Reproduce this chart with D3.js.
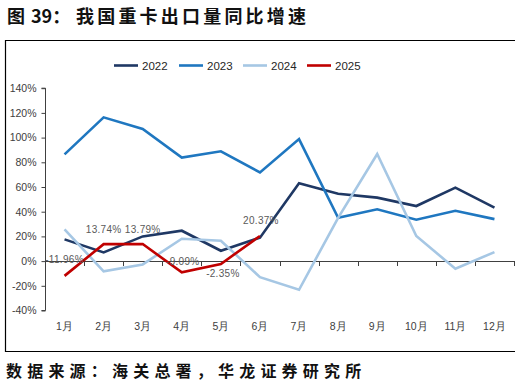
<!DOCTYPE html>
<html>
<head>
<meta charset="utf-8">
<script src="https://cdn.jsdelivr.net/npm/d3@7"></script>
<style>
  html, body { margin: 0; padding: 0; background: #fff; }
  svg { display: block; }
</style>
</head>
<body>
<svg id="chart" width="521" height="392"></svg>
<script>
const months = ["1月","2月","3月","4月","5月","6月","7月","8月","9月","10月","11月","12月"];
const seriesNames = ["2022","2023","2024","2025"];
const v2022 = [17.6, 7.0, 20.0, 24.6, 8.4, 19.0, 63.0, 54.6, 51.4, 44.6, 59.5, 43.3];
const v2023 = [86.4, 116.4, 107.0, 83.8, 88.9, 71.8, 98.8, 35.1, 41.9, 33.5, 40.8, 34.0];
const v2024 = [25.7, -8.3, -2.7, 18.1, 16.5, -13.0, -23.2, 35.0, 86.7, 20.3, -6.2, 7.3];
const v2025 = [-11.96, 13.74, 13.79, -9.09, -2.35, 20.37];
const labels2025 = ["-11.96%","13.74%","13.79%","-9.09%","-2.35%","20.37%"];
const yTicks = [-40, -20, 0, 20, 40, 60, 80, 100, 120, 140];
const yTickLabels = ["-40%","-20%","0%","20%","40%","60%","80%","100%","120%","140%"];

const colors = ["#1f3864", "#1f77c0", "#a6c7e4", "#c00000"];
const seriesValues = [v2022, v2023, v2024, v2025];
// label placement offsets (layout only)
const labelDy = [-16, -15, -15, -11, 9, -15];
const labelDx = [0, 0, 0, 1, 2, 1];

const svg = d3.select("#chart");
const font = "'Liberation Sans', Arial, sans-serif";
const cjkBold = "'Noto Sans CJK SC', sans-serif";

// frame
svg.append("line").attr("x1", 5).attr("x2", 515).attr("y1", 40.5).attr("y2", 40.5).attr("stroke", "#000").attr("stroke-width", 1.2);
svg.append("line").attr("x1", 5.5).attr("x2", 5.5).attr("y1", 40).attr("y2", 352).attr("stroke", "#000").attr("stroke-width", 1.2);
svg.append("line").attr("x1", 5).attr("x2", 515).attr("y1", 351.5).attr("y2", 351.5).attr("stroke", "#000").attr("stroke-width", 1.2);

// title
const title = svg.append("text").attr("y", 23).attr("font-family", cjkBold).attr("font-weight", 700).attr("font-size", 18).attr("fill", "#111");
title.append("tspan").attr("x", 7).text("图");
title.append("tspan").attr("x", 31).text("39：");
title.append("tspan").attr("x", 76).attr("letter-spacing", 3.2).text("我国重卡出口量同比增速");

// source
svg.append("text").attr("x", 6).attr("y", 377).attr("font-family", cjkBold).attr("font-weight", 700)
  .attr("font-size", 16).attr("letter-spacing", 5.2).attr("fill", "#111").text("数据来源：海关总署，华龙证券研究所");

const x = d3.scaleBand().domain(months).range([45, 514]);
const y = d3.scaleLinear().domain([-40, 140]).range([310.5, 88.2]);
const cx = m => x(m) + x.bandwidth() / 2;

// y axis
const yAxis = d3.axisLeft(y).tickValues(yTicks).tickSize(4).tickFormat((d, i) => yTickLabels[i]);
const ya = svg.append("g").attr("transform", "translate(45.5,0)").call(yAxis);
ya.select(".domain").attr("stroke", "#404040").attr("d", `M-4,${y(-40)}H0V${y(140)}H-4`);
ya.selectAll(".tick line").attr("stroke", "#404040");
ya.selectAll(".tick text").attr("font-family", font).attr("font-size", 10.5).attr("fill", "#404040").attr("x", -9);

// x axis at zero
const xa = svg.append("g");
xa.append("line").attr("x1", 45).attr("x2", 514).attr("y1", Math.round(y(0)) + 0.5).attr("y2", Math.round(y(0)) + 0.5).attr("stroke", "#404040").attr("stroke-width", 1);
const bounds = months.map(m => x(m)).concat([x.range()[1]]);
xa.selectAll("line.tk").data(bounds.slice(1)).enter().append("line").attr("class", "tk")
  .attr("x1", d => Math.round(d) + 0.5).attr("x2", d => Math.round(d) + 0.5)
  .attr("y1", Math.round(y(0))).attr("y2", Math.round(y(0)) + 5).attr("stroke", "#404040");
xa.selectAll("text").data(months).enter().append("text")
  .attr("x", d => cx(d)).attr("y", 330).attr("text-anchor", "middle")
  .attr("font-family", font).attr("font-size", 10.5).attr("fill", "#404040").text(d => d);

// lines
const line = d3.line().x((d, i) => cx(months[i])).y(d => y(d));
seriesValues.forEach((vals, k) => {
  svg.append("path").datum(vals).attr("d", line).attr("fill", "none")
    .attr("stroke", colors[k]).attr("stroke-width", 2.6).attr("stroke-linejoin", "miter");
});

// 2025 data labels
svg.selectAll("text.lbl").data(v2025).enter().append("text").attr("class", "lbl")
  .attr("x", (d, i) => cx(months[i]) + labelDx[i]).attr("y", (d, i) => y(d) + labelDy[i])
  .attr("dy", "0.35em").attr("text-anchor", "middle")
  .attr("font-family", font).attr("font-size", 10).attr("letter-spacing", 0.3).attr("fill", "#595959")
  .text((d, i) => labels2025[i]);

// legend
const legX = [114, 179, 243, 307];
seriesNames.forEach((n, k) => {
  svg.append("line").attr("x1", legX[k]).attr("x2", legX[k] + 24).attr("y1", 65.5).attr("y2", 65.5)
    .attr("stroke", colors[k]).attr("stroke-width", 2.6);
  svg.append("text").attr("x", legX[k] + 28).attr("y", 65.5).attr("dy", "0.35em")
    .attr("font-family", font).attr("font-size", 11.5).attr("fill", "#262626").text(n);
});
</script>
</body>
</html>
